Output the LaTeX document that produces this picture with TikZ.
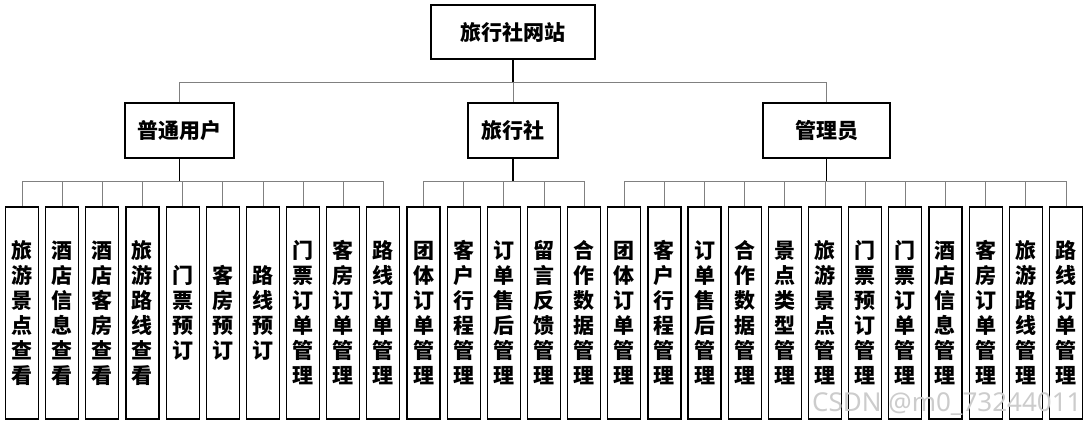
\documentclass[tikz,border=0pt]{standalone}
\usepackage{fontspec}
\usepackage{tikz}
\usetikzlibrary{positioning}
\newfontfamily\cjk{Noto Sans CJK SC}
\newfontfamily\wmfont{Noto Sans}

\begin{document}
\begin{tikzpicture}[x=1pt, y=1pt, node distance={40.15pt},
		box/.style={draw, line width=1.2pt, inner sep=0pt, font=\cjk\bfseries\fontsize{21}{25}\selectfont},
		leaf/.style={box, minimum width=33pt, minimum height=212pt, align=center},
		link/.style={draw=gray, line width=0.8pt},
		stub/.style={draw, line width=1.4pt}]
		\useasboundingbox (0,0) rectangle (1086,-423);

		\node[box, minimum width=164pt, minimum height=54pt] (web) at (513,-32) {旅行社网站};
		\node[box, minimum width=109pt, minimum height=55pt] (user) at (179.5,-130.5) {普通用户};
		\node[box, minimum width=90pt, minimum height=55pt] (agency) at (513,-130.5) {旅行社};
		\node[box, minimum width=127pt, minimum height=55pt] (admin) at (826.5,-130.5) {管理员};

		% leaves of user
		\node[leaf] (u1) at (22,-313) {旅\\游\\景\\点\\查\\看};
		\node[leaf] (u2) [right of=u1] {酒\\店\\信\\息\\查\\看};
		\node[leaf] (u3) [right of=u2] {酒\\店\\客\\房\\查\\看};
		\node[leaf] (u4) [right of=u3] {旅\\游\\路\\线\\查\\看};
		\node[leaf] (u5) [right of=u4] {门\\票\\预\\订};
		\node[leaf] (u6) [right of=u5] {客\\房\\预\\订};
		\node[leaf] (u7) [right of=u6] {路\\线\\预\\订};
		\node[leaf] (u8) [right of=u7] {门\\票\\订\\单\\管\\理};
		\node[leaf] (u9) [right of=u8] {客\\房\\订\\单\\管\\理};
		\node[leaf] (u10) [right of=u9] {路\\线\\订\\单\\管\\理};

		% leaves of agency
		\node[leaf] (g1) [right of=u10] {团\\体\\订\\单\\管\\理};
		\node[leaf] (g2) [right of=g1] {客\\户\\行\\程\\管\\理};
		\node[leaf] (g3) [right of=g2] {订\\单\\售\\后\\管\\理};
		\node[leaf] (g4) [right of=g3] {留\\言\\反\\馈\\管\\理};
		\node[leaf] (g5) [right of=g4] {合\\作\\数\\据\\管\\理};

		% leaves of admin
		\node[leaf] (a1) [right of=g5] {团\\体\\订\\单\\管\\理};
		\node[leaf] (a2) [right of=a1] {客\\户\\行\\程\\管\\理};
		\node[leaf] (a3) [right of=a2] {订\\单\\售\\后\\管\\理};
		\node[leaf] (a4) [right of=a3] {合\\作\\数\\据\\管\\理};
		\node[leaf] (a5) [right of=a4] {景\\点\\类\\型\\管\\理};
		\node[leaf] (a6) [right of=a5] {旅\\游\\景\\点\\管\\理};
		\node[leaf] (a7) [right of=a6] {门\\票\\预\\订\\管\\理};
		\node[leaf] (a8) [right of=a7] {门\\票\\订\\单\\管\\理};
		\node[leaf] (a9) [right of=a8] {酒\\店\\信\\息\\管\\理};
		\node[leaf] (a10) [right of=a9] {客\\房\\订\\单\\管\\理};
		\node[leaf] (a11) [right of=a10] {旅\\游\\路\\线\\管\\理};
		\node[leaf] (a12) [right of=a11] {路\\线\\订\\单\\管\\理};

		% stubs down to the buses
		\draw[stub] (web.south) -- ++(0,-23) coordinate (wb);
		\draw[stub] (user.south) -- ++(0,-23) coordinate (ub);
		\draw[stub] (agency.south) -- ++(0,-23) coordinate (gb);
		\draw[stub] (admin.south) -- ++(0,-23) coordinate (ab);

		\draw[link] (wb) -| (user.north);
		\draw[link] (wb) -| (agency.north);
		\draw[link] (wb) -| (admin.north);

		\draw[link] (ub) -| (u1.north);
		\draw[link] (ub) -| (u2.north);
		\draw[link] (ub) -| (u3.north);
		\draw[link] (ub) -| (u4.north);
		\draw[link] (ub) -| (u5.north);
		\draw[link] (ub) -| (u6.north);
		\draw[link] (ub) -| (u7.north);
		\draw[link] (ub) -| (u8.north);
		\draw[link] (ub) -| (u9.north);
		\draw[link] (ub) -| (u10.north);

		\draw[link] (gb) -| (g1.north);
		\draw[link] (gb) -| (g2.north);
		\draw[link] (gb) -| (g3.north);
		\draw[link] (gb) -| (g4.north);
		\draw[link] (gb) -| (g5.north);

		\draw[link] (ab) -| (a1.north);
		\draw[link] (ab) -| (a2.north);
		\draw[link] (ab) -| (a3.north);
		\draw[link] (ab) -| (a4.north);
		\draw[link] (ab) -| (a5.north);
		\draw[link] (ab) -| (a6.north);
		\draw[link] (ab) -| (a7.north);
		\draw[link] (ab) -| (a8.north);
		\draw[link] (ab) -| (a9.north);
		\draw[link] (ab) -| (a10.north);
		\draw[link] (ab) -| (a11.north);
		\draw[link] (ab) -| (a12.north);

		\node[text=gray!40, font=\wmfont\fontsize{26}{26}\selectfont, anchor=base west, inner sep=0pt] (mark) at (812,-411) {CSDN @m0\_73244011};
	\end{tikzpicture}
\end{document}
